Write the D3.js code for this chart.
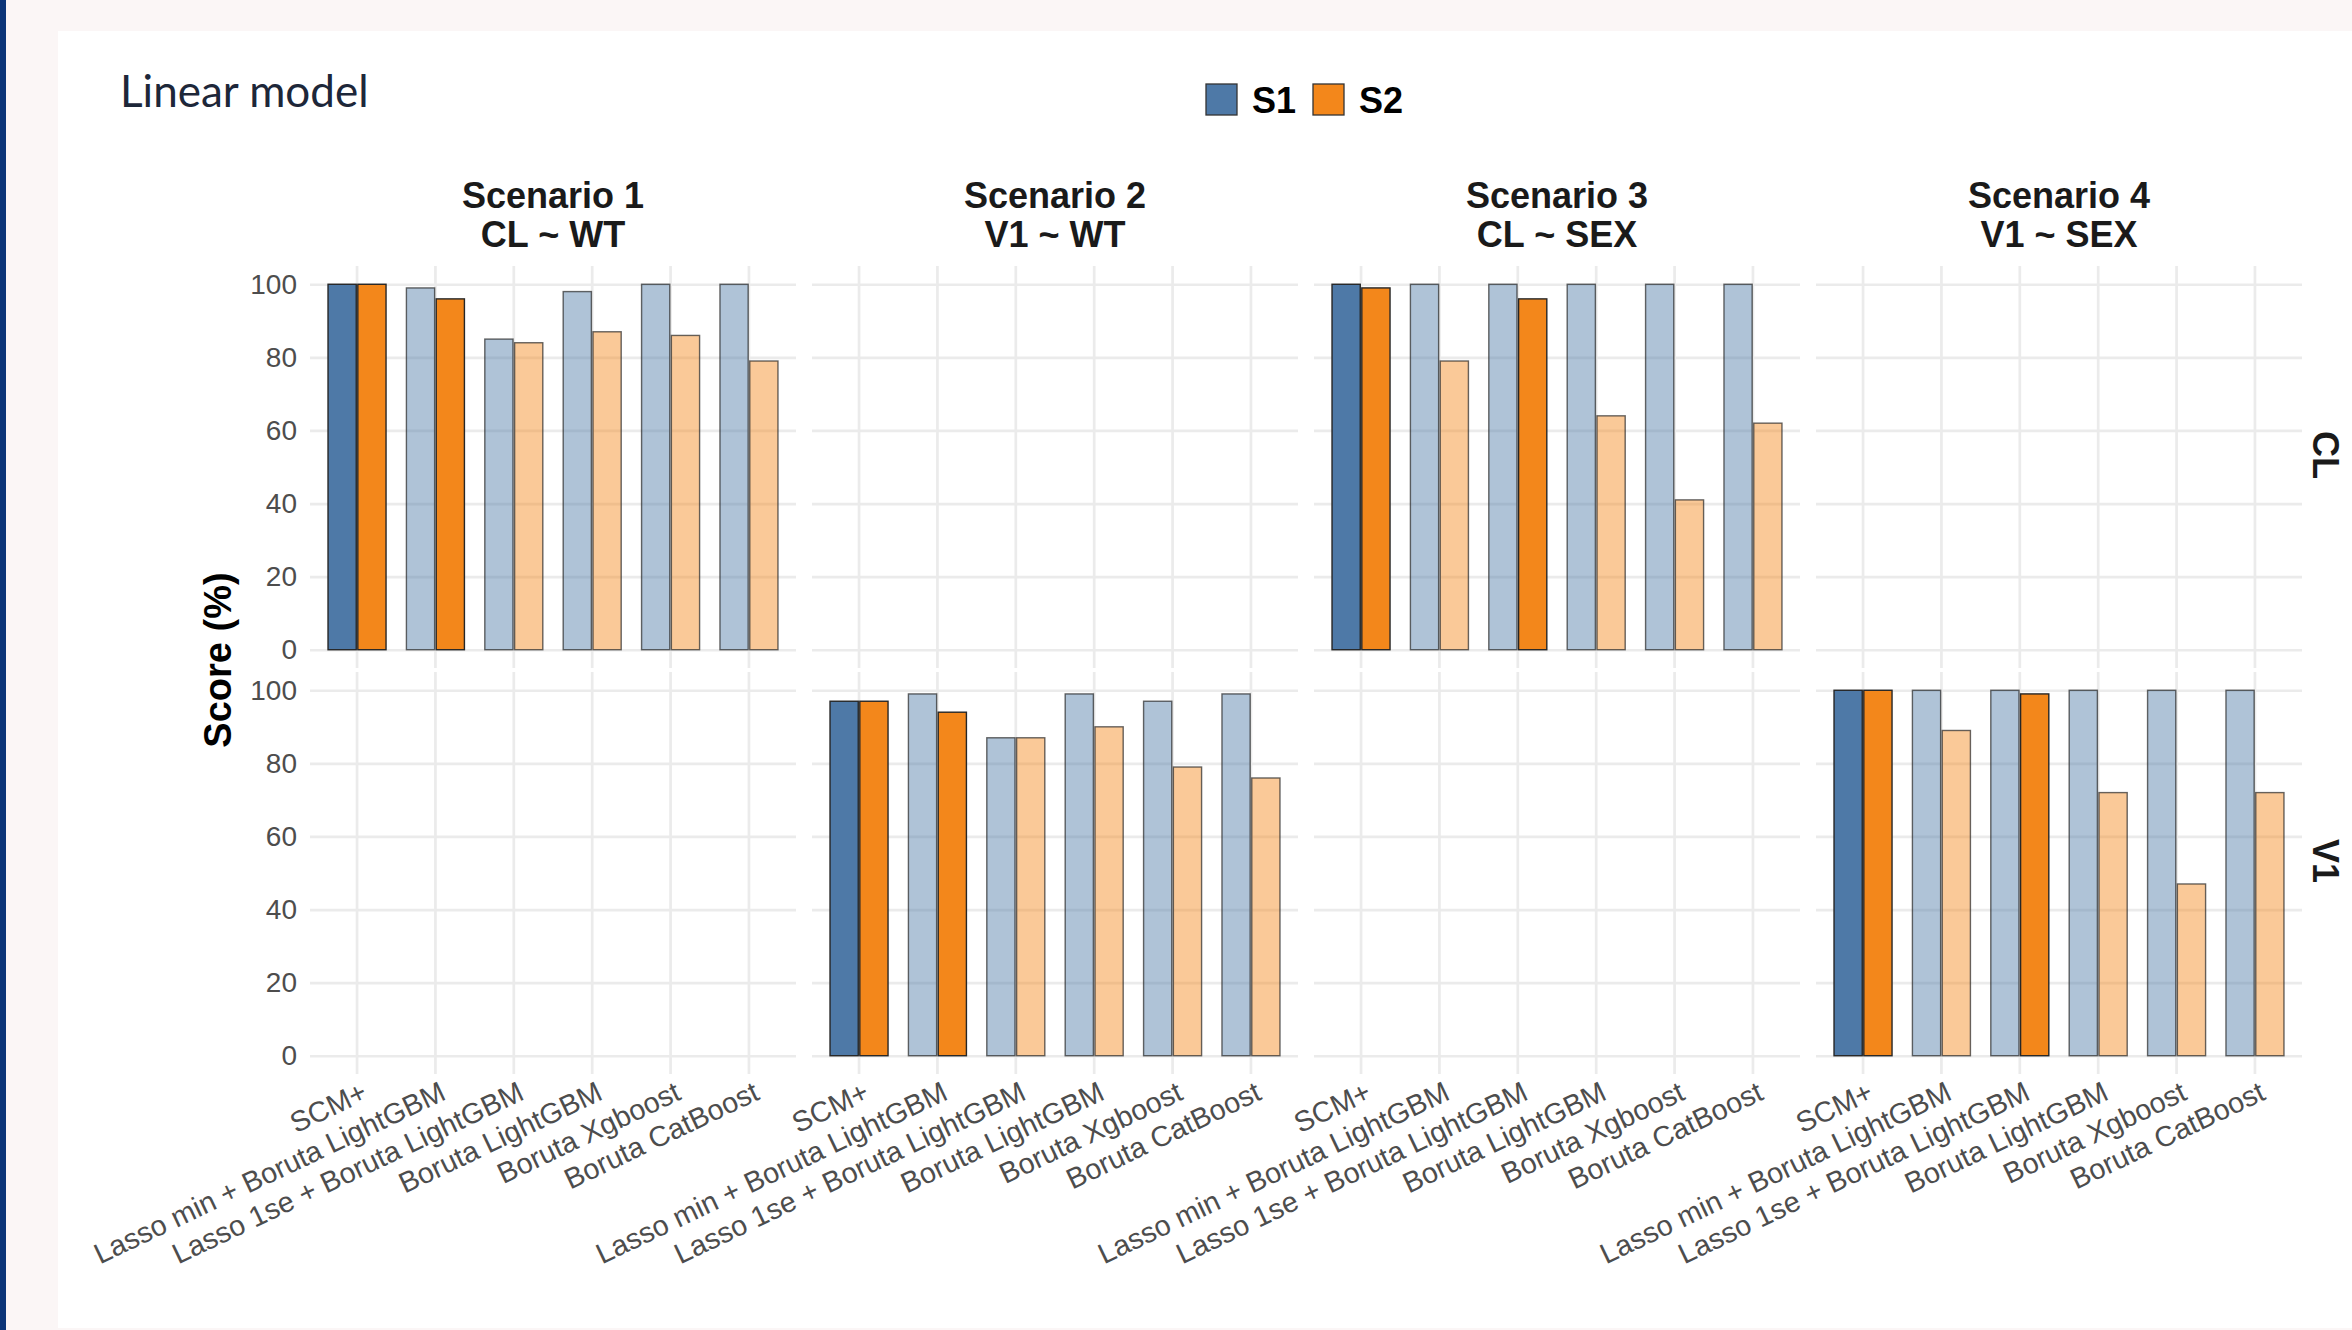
<!DOCTYPE html>
<html>
<head>
<meta charset="utf-8">
<script src="https://cdn.jsdelivr.net/npm/d3@7"></script>
<style>
  html, body { margin: 0; padding: 0; background: #fbf6f6; }
  svg { display: block; }
</style>
</head>
<body>
<svg id="chart" width="2352" height="1330"></svg>
<script>
// ---- data ----
const methods = [
  "SCM+",
  "Lasso min + Boruta LightGBM",
  "Lasso 1se + Boruta LightGBM",
  "Boruta LightGBM",
  "Boruta Xgboost",
  "Boruta CatBoost"
];
const seriesNames = ["S1", "S2"];
const responses = ["CL", "V1"];
const scenarioTitles = ["Scenario 1", "Scenario 2", "Scenario 3", "Scenario 4"];
const scenarioFormulas = ["CL ~ WT", "V1 ~ WT", "CL ~ SEX", "V1 ~ SEX"];
const scenarioResponse = ["CL", "V1", "CL", "V1"];
const yTicks = [0, 20, 40, 60, 80, 100];

// scores (%) per scenario, one value per method
const s1Scores = [
  [100, 99, 85, 98, 100, 100],
  [97, 99, 87, 99, 97, 99],
  [100, 100, 100, 100, 100, 100],
  [100, 100, 100, 100, 100, 100]
];
const s2Scores = [
  [100, 96, 84, 87, 86, 79],
  [97, 94, 87, 90, 79, 76],
  [99, 79, 96, 64, 41, 62],
  [100, 89, 99, 72, 47, 72]
];
// 1 = selected (solid), 0 = other (faded)
const s1Selected = [
  [1, 0, 0, 0, 0, 0],
  [1, 0, 0, 0, 0, 0],
  [1, 0, 0, 0, 0, 0],
  [1, 0, 0, 0, 0, 0]
];
const s2Selected = [
  [1, 1, 0, 0, 0, 0],
  [1, 1, 0, 0, 0, 0],
  [1, 0, 1, 0, 0, 0],
  [1, 0, 1, 0, 0, 0]
];

// ---- styling / layout ----
const colors = { S1: "#4e79a7", S2: "#f3871b" };
const fadedOpacity = 0.45;
const gridColor = "#ebebeb";
const axisTextColor = "#4d4d4d";
const baseFont = "'Liberation Sans', Arial, sans-serif";

const W = 2352, H = 1330;
const panelW = 486, panelH = 402;
const colLeft = d3.scaleLinear().domain([0, 1]).range([310, 812]); // column index -> left edge
const rowTop = { CL: 266, V1: 672 };

const svg = d3.select("#chart");

// page frame
svg.append("rect").attr("x", 0).attr("y", 0).attr("width", W).attr("height", H).attr("fill", "#fbf6f6");
svg.append("rect").attr("x", 58).attr("y", 31).attr("width", W - 58).attr("height", 1297).attr("fill", "#ffffff");
svg.append("rect").attr("x", 0).attr("y", 0).attr("width", 6).attr("height", H).attr("fill", "#0c3578");

// title
svg.append("text")
  .attr("x", 120).attr("y", 107)
  .attr("font-family", "Lato, 'Open Sans', sans-serif")
  .attr("font-size", 44)
  .attr("fill", "#1d2739")
  .text("Linear model");

// legend
const legendX = [1206, 1313];
seriesNames.forEach((s, i) => {
  const g = svg.append("g").attr("transform", `translate(${legendX[i]},84)`);
  g.append("rect").attr("width", 31).attr("height", 31)
    .attr("fill", colors[s]).attr("stroke", "#333").attr("stroke-width", 1.3);
  g.append("text").attr("x", 46).attr("y", 29)
    .attr("font-family", baseFont).attr("font-weight", "bold").attr("font-size", 36)
    .attr("fill", "#000").text(s);
});

// scales
const x = d3.scaleBand().domain(methods).range([0, panelW]).paddingInner(0).paddingOuter(0.1);
const y = d3.scaleLinear().domain([-5, 105]).range([panelH, 0]);
const step = x.step();
const barW = step * 0.36;
const barGap = step * 0.02;

// panels
scenarioTitles.forEach((title, c) => {
  const left = colLeft(c);

  // strip titles
  svg.append("text")
    .attr("x", left + panelW / 2).attr("y", 208)
    .attr("text-anchor", "middle")
    .attr("font-family", baseFont).attr("font-weight", "bold").attr("font-size", 36)
    .attr("fill", "#1a1a1a").text(title);
  svg.append("text")
    .attr("x", left + panelW / 2).attr("y", 247)
    .attr("text-anchor", "middle")
    .attr("font-family", baseFont).attr("font-weight", "bold").attr("font-size", 36)
    .attr("fill", "#1a1a1a").text(scenarioFormulas[c]);

  responses.forEach(resp => {
    const g = svg.append("g").attr("transform", `translate(${left},${rowTop[resp]})`);

    // horizontal grid
    g.append("g")
      .call(d3.axisLeft(y).tickValues(yTicks).tickSize(-panelW).tickFormat(""))
      .call(a => a.select(".domain").remove())
      .call(a => a.selectAll("line").attr("stroke", gridColor).attr("stroke-width", 2.7));

    // vertical grid
    g.append("g")
      .attr("transform", `translate(0,${panelH})`)
      .call(d3.axisBottom(x).tickSize(-panelH).tickFormat(""))
      .call(a => a.select(".domain").remove())
      .call(a => a.selectAll("line").attr("stroke", gridColor).attr("stroke-width", 2.7));

    // y tick labels on the first column
    if (c === 0) {
      g.append("g")
        .call(d3.axisLeft(y).tickValues(yTicks).tickSize(0).tickPadding(13))
        .call(a => a.select(".domain").remove())
        .call(a => a.selectAll("text")
          .attr("font-family", baseFont).attr("font-size", 28)
          .attr("fill", axisTextColor));
    }

    // bars
    if (scenarioResponse[c] === resp) {
      const rows = [];
      methods.forEach((m, i) => {
        rows.push({ m, s: "S1", v: s1Scores[c][i], sel: s1Selected[c][i] });
        rows.push({ m, s: "S2", v: s2Scores[c][i], sel: s2Selected[c][i] });
      });
      g.append("g").selectAll("rect").data(rows).join("rect")
        .attr("x", d => {
          const center = x(d.m) + x.bandwidth() / 2;
          return d.s === "S1" ? center - barGap / 2 - barW : center + barGap / 2;
        })
        .attr("y", d => y(d.v))
        .attr("width", barW)
        .attr("height", d => y(0) - y(d.v))
        .attr("fill", d => colors[d.s])
        .attr("fill-opacity", d => d.sel ? 1 : fadedOpacity)
        .attr("stroke", "#262626")
        .attr("stroke-opacity", d => d.sel ? 1 : 0.7)
        .attr("stroke-width", 1.4);
    }

    // x tick labels under the bottom row
    if (resp === "V1") {
      g.append("g")
        .attr("transform", `translate(0,${panelH})`)
        .call(d3.axisBottom(x).tickSize(0))
        .call(a => a.select(".domain").remove())
        .call(a => a.selectAll("text")
          .attr("x", 0).attr("y", 0).attr("dy", "0.72em")
          .attr("text-anchor", "end")
          .attr("transform", "translate(3,6) rotate(-25.5)")
          .attr("font-family", baseFont).attr("font-size", 28.8)
          .attr("fill", axisTextColor));
    }
  });
});

// row strips on the right
responses.forEach(resp => {
  const cy = rowTop[resp] + panelH / 2 - 12;
  svg.append("text")
    .attr("transform", `translate(2313,${cy}) rotate(90)`)
    .attr("text-anchor", "middle")
    .attr("font-family", baseFont).attr("font-weight", "bold").attr("font-size", 36)
    .attr("fill", "#1a1a1a").text(resp);
});

// y-axis title
svg.append("text")
  .attr("transform", `translate(231,660) rotate(-90)`)
  .attr("text-anchor", "middle")
  .attr("font-family", baseFont).attr("font-weight", "bold").attr("font-size", 38)
  .attr("fill", "#000").text("Score (%)");
</script>
</body>
</html>
